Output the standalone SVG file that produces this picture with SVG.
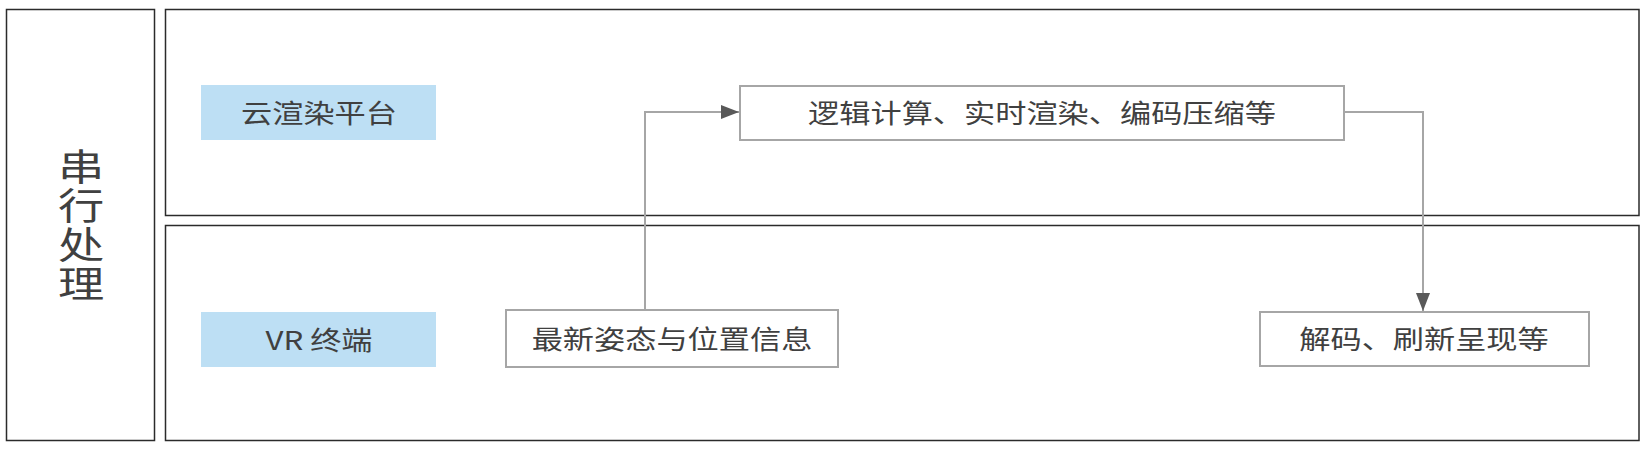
<svg xmlns="http://www.w3.org/2000/svg" width="1652" height="450" viewBox="0 0 1652 450">
<style>
.lane{fill:#fff;stroke:#2b2b2b;stroke-width:1.5}
.label{fill:#bddff4}
.node{fill:#fff;stroke:#a6a6a6;stroke-width:2}
.t{font-family:"Noto Sans CJK SC","Liberation Sans",sans-serif;fill:#404040;text-anchor:middle;dominant-baseline:central}
.conn{fill:none;stroke:#a6a6a6;stroke-width:2}
</style>
<defs>
<marker id="arr" markerWidth="18" markerHeight="14" refX="18" refY="7" orient="auto" markerUnits="userSpaceOnUse" viewBox="0 0 18 14">
<path d="M0,0 L18,7 L0,14 Z" fill="#595959"/>
</marker>
</defs>
<rect width="1652" height="450" fill="#fff"/>
<g id="side">
<rect class="lane" x="6.5" y="9.5" width="148" height="431"/>
<text class="t" transform="translate(81,226) scale(1.25,1)" font-size="37" writing-mode="vertical-rl" letter-spacing="2">串行处理</text>
</g>
<g id="lane-cloud">
<rect class="lane" x="165.5" y="9.5" width="1473.5" height="206"/>
<rect class="label" x="201" y="85" width="235" height="55"/>
<text class="t" transform="translate(319,112) scale(1.2,1)" font-size="26">云渲染平台</text>
</g>
<g id="lane-vr">
<rect class="lane" x="165.5" y="225.5" width="1473.5" height="215"/>
<rect class="label" x="201" y="312" width="235" height="55"/>
<text class="t" transform="translate(319,339) scale(1.2,1)" font-size="26">VR 终端</text>
</g>
<g id="node-compute">
<rect class="node" x="740" y="86" width="604" height="54"/>
<text class="t" transform="translate(1042,112) scale(1.2,1)" font-size="26">逻辑计算、实时渲染、编码压缩等</text>
</g>
<g id="node-pose">
<rect class="node" x="506" y="310" width="332" height="57"/>
<text class="t" transform="translate(672,338) scale(1.2,1)" font-size="26">最新姿态与位置信息</text>
</g>
<g id="node-decode">
<rect class="node" x="1260" y="312" width="329" height="54"/>
<text class="t" transform="translate(1424,338) scale(1.2,1)" font-size="26">解码、刷新呈现等</text>
</g>
<g id="connectors">
<path class="conn" d="M645,310 V112 H739" marker-end="url(#arr)"/>
<path class="conn" d="M1344,112 H1423 V311" marker-end="url(#arr)"/>
</g>
</svg>
